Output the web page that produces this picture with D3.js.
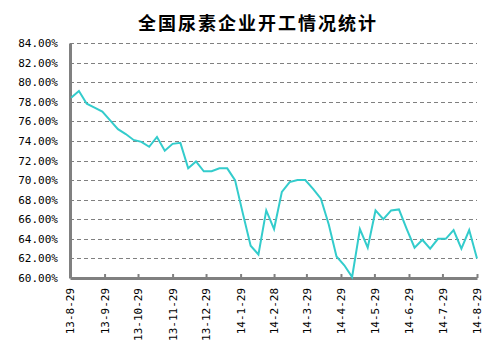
<!DOCTYPE html>
<html lang="zh">
<head>
  <meta charset="UTF-8">
  <title>全国尿素企业开工情况统计</title>
  <script src="https://d3js.org/d3.v7.min.js"></script>
  <style>
    body { margin: 0; background: #fff; }
    .grid line { stroke: #808080; stroke-width: 1; stroke-dasharray: 4,3; shape-rendering: crispEdges; }
    .axis text { font-family: "DejaVu Sans Mono", monospace; font-size: 11px; fill: #000; }
  </style>
</head>
<body>
<div id="chart"></div>
<script>
// weekly dates (Fridays)
const dates = [
  "2013-08-30","2013-09-06","2013-09-13","2013-09-20","2013-09-27","2013-10-04","2013-10-11",
  "2013-10-18","2013-10-25","2013-11-01","2013-11-08","2013-11-15","2013-11-22","2013-11-29",
  "2013-12-06","2013-12-13","2013-12-20","2013-12-27","2014-01-03","2014-01-10","2014-01-17",
  "2014-01-24","2014-01-31","2014-02-07","2014-02-14","2014-02-21","2014-02-28","2014-03-07",
  "2014-03-14","2014-03-21","2014-03-28","2014-04-04","2014-04-11","2014-04-18","2014-04-25",
  "2014-05-02","2014-05-09","2014-05-16","2014-05-23","2014-05-30","2014-06-06","2014-06-13",
  "2014-06-20","2014-06-27","2014-07-04","2014-07-11","2014-07-18","2014-07-25","2014-08-01",
  "2014-08-08","2014-08-15","2014-08-22","2014-08-29"
];
// 开工率 %
const rates = [
  78.4, 79.1, 77.8, 77.4, 77.0, 76.1, 75.2, 74.7, 74.1, 73.9,
  73.4, 74.4, 73.0, 73.7, 73.8, 71.2, 71.9, 70.9, 70.9, 71.2,
  71.2, 70.0, 66.6, 63.3, 62.4, 66.9, 65.0, 68.8, 69.8, 70.0,
  70.0, 69.1, 68.1, 65.5, 62.2, 61.3, 60.1, 65.0, 63.1, 66.9,
  66.0, 66.9, 67.0, 65.0, 63.1, 63.9, 63.0, 64.0, 64.0, 64.9,
  63.0, 64.9, 62.0
];
// x axis tick labels
const tickDates = ["2013-08-29","2013-09-29","2013-10-29","2013-11-29","2013-12-29","2014-01-29",
  "2014-02-28","2014-03-29","2014-04-29","2014-05-29","2014-06-29","2014-07-29","2014-08-29"];
const yTicks = [60, 62, 64, 66, 68, 70, 72, 74, 76, 78, 80, 82, 84];

const W = 503, H = 351;
const margin = {left: 70, right: 477, top: 43, bottom: 278};

const parse = d3.timeParse("%Y-%m-%d");
const fmt = d3.timeFormat("%y-%-m-%-d");
const data = dates.map((d, i) => ({date: parse(d), value: rates[i]}));

const svg = d3.select("#chart").append("svg")
  .attr("width", W).attr("height", H);

const x = d3.scaleTime()
  .domain([parse(tickDates[0]), parse(tickDates[tickDates.length - 1])])
  .range([margin.left, margin.right]);
const y = d3.scaleLinear().domain([60, 84]).range([margin.bottom, margin.top]);

// title
svg.append("text")
  .attr("x", 258).attr("y", 30)
  .attr("text-anchor", "middle")
  .style("font-family", "'Noto Sans CJK SC', sans-serif")
  .style("font-weight", "bold")
  .style("font-size", "18px")
  .style("letter-spacing", "2px")
  .text("全国尿素企业开工情况统计");

// grid lines
svg.append("g").attr("class", "grid")
  .selectAll("line")
  .data(yTicks.filter(v => v > 60))
  .join("line")
    .attr("x1", margin.left).attr("x2", margin.right)
    .attr("y1", d => Math.round(y(d)) + 0.5)
    .attr("y2", d => Math.round(y(d)) + 0.5);

// y axis
const yAxis = svg.append("g").attr("class", "axis")
  .attr("transform", `translate(${margin.left},0)`)
  .call(d3.axisLeft(y).tickValues(yTicks).tickSize(0).tickPadding(12)
    .tickFormat(d => d.toFixed(2) + "%"));
yAxis.select(".domain").attr("stroke", "#808080").attr("stroke-width", 3);

// x axis
const xAxis = svg.append("g").attr("class", "axis")
  .attr("transform", `translate(0,${margin.bottom})`)
  .call(d3.axisBottom(x).tickValues(tickDates.map(parse)).tickSizeInner(-4).tickSizeOuter(0)
    .tickFormat(fmt));
xAxis.select(".domain").attr("stroke", "#808080").attr("stroke-width", 3);
xAxis.selectAll(".tick line").attr("stroke", "#808080").attr("stroke-width", 2);
xAxis.selectAll(".tick text")
  .attr("text-anchor", "end")
  .attr("transform", "translate(0,10) rotate(-90)")
  .attr("x", 0).attr("y", 0).attr("dy", "0.35em");

// line
svg.append("path")
  .datum(data)
  .attr("fill", "none")
  .attr("stroke", "#33CCCC")
  .attr("stroke-width", 2)
  .attr("d", d3.line().x(d => x(d.date)).y(d => y(d.value)));
</script>
</body>
</html>
